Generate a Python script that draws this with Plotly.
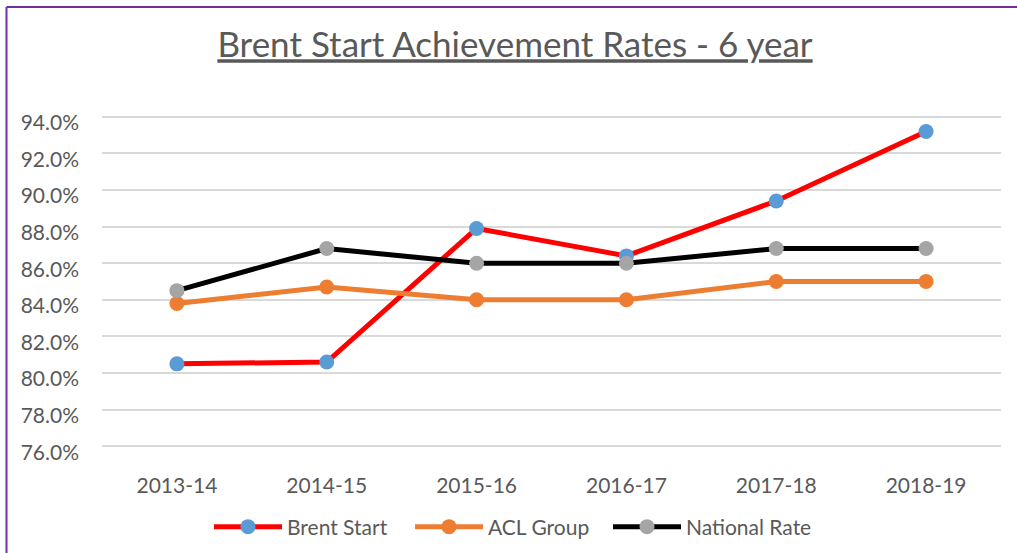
import plotly.graph_objects as go

years = ["2013-14", "2014-15", "2015-16", "2016-17", "2017-18", "2018-19"]
brent_start = [80.5, 80.6, 87.9, 86.4, 89.4, 93.2]
acl_group = [83.8, 84.7, 84.0, 84.0, 85.0, 85.0]
national_rate = [84.5, 86.8, 86.0, 86.0, 86.8, 86.8]

FONT = "Lato, 'Open Sans', sans-serif"
TXT = "#595959"

T, B = 115, 105
PH = 553 - T - B
L, R = 102, 16
PW = 1017 - L - R


def py(pix):
    return (553 - B - pix) / PH


def px(pix):
    return (pix - L) / PW


fig = go.Figure()
series = [
    ("Brent Start", brent_start, "#FF0000", "#5B9BD5", "legend", 209),
    ("ACL Group", acl_group, "#ED7D31", "#ED7D31", "legend2", 410),
    ("National Rate", national_rate, "#000000", "#A5A5A5", "legend3", 608),
]
legends = {}
for name, vals, lc, mc, leg, lx in series:
    fig.add_trace(go.Scatter(
        x=years, y=vals, name=name, mode="lines+markers",
        line=dict(color=lc, width=5),
        marker=dict(color=mc, size=15, line=dict(width=0)),
        legend=leg,
    ))
    legends[leg] = dict(
        orientation="h", x=px(lx), xanchor="left", y=py(527), yanchor="middle",
        font=dict(family=FONT, size=21, color=TXT),
        itemwidth=68, bgcolor="rgba(0,0,0,0)",
    )

fig.update_layout(
    width=1017, height=553,
    margin=dict(l=L, r=R, t=T, b=B, autoexpand=False),
    paper_bgcolor="white", plot_bgcolor="white",
    font=dict(family=FONT, color=TXT, size=21),
    title=dict(
        text="<u>Brent Start Achievement Rates - 6 year</u>",
        x=515 / 1017, xref="container", xanchor="center",
        y=1 - 45 / 553, yref="container", yanchor="middle",
        font=dict(family=FONT, size=35, color=TXT),
    ),
    showlegend=True,
    xaxis=dict(
        showgrid=False, zeroline=False, showline=False,
        ticks="", ticklabelstandoff=23,
        tickfont=dict(family=FONT, size=21, color=TXT),
        range=[-0.5, 5.5],
    ),
    yaxis=dict(
        range=[75.9, 94.1], dtick=2, tick0=76,
        tickformat=".1f", ticksuffix="%",
        showgrid=True, gridcolor="#D9D9D9", gridwidth=2,
        zeroline=False, showline=False, ticks="", ticklabelstandoff=22,
        ticklabelshift=6,
        tickfont=dict(family=FONT, size=21, color=TXT),
    ),
    shapes=[
        dict(type="line", xref="paper", yref="paper",
             x0=px(6.5), x1=px(1017), y0=py(7), y1=py(7),
             line=dict(color="#7030A0", width=2)),
        dict(type="line", xref="paper", yref="paper",
             x0=px(6.5), x1=px(6.5), y0=py(7), y1=py(560),
             line=dict(color="#7030A0", width=2)),
    ],
    **legends,
)

fig.write_html("out.html")
